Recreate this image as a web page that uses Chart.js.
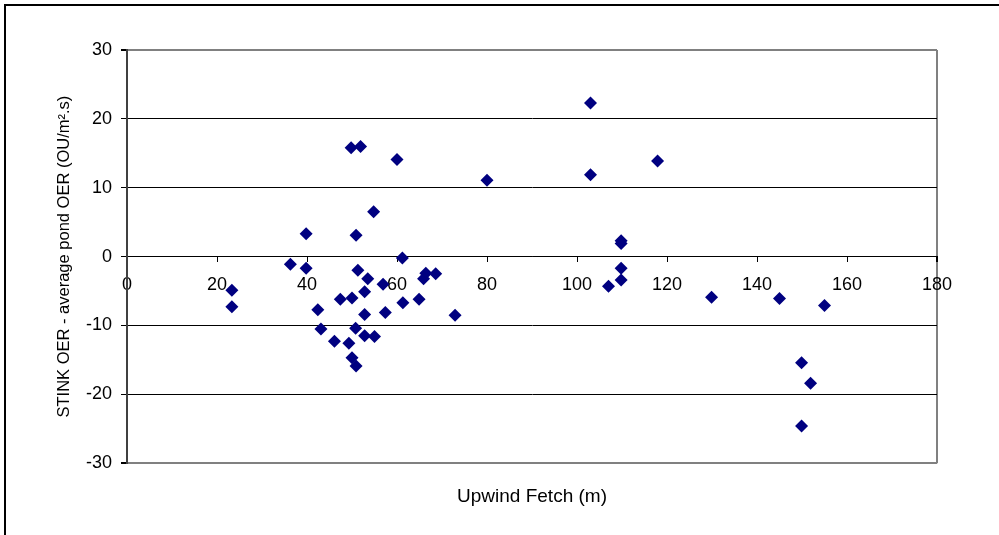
<!DOCTYPE html>
<html>
<head>
<meta charset="utf-8">
<script src="https://cdn.jsdelivr.net/npm/chart.js@4.4.1/dist/chart.umd.min.js"></script>
<style>
  html, body { margin: 0; padding: 0; background: #fff; overflow: hidden; }
  #wrap { position: relative; width: 999px; height: 535px; }
  #frame { position: absolute; left: 4px; top: 4px; width: 1100px; height: 600px;
           border: 2px solid #000; pointer-events: none; }
</style>
</head>
<body>
<div id="wrap">
  <canvas id="fetchChart" width="999" height="535"></canvas>
  <div id="frame"></div>
</div>
<script>
// Upwind fetch (m) and STINK OER minus average pond OER
const fetchM = [
  23.3, 23.3, 36.3, 39.8, 39.8, 42.4, 43.1, 46.1, 47.4, 49.3,
  49.8, 50.0, 50.0, 50.9, 50.8, 50.9, 51.3, 51.9, 52.8, 52.8,
  52.8, 53.5, 54.8, 55.0, 56.9, 57.4, 60.0, 61.2, 61.3, 64.9,
  65.9, 66.4, 68.6, 72.9, 80.0, 103.0, 103.0, 107.0, 109.8, 109.8,
  109.8, 109.8, 117.9, 129.9, 145.0, 155.0, 149.9, 151.9, 149.9
];
const oerDiff = [
  -4.9, -7.3, -1.1, 3.3, -1.7, -7.7, -10.5, -12.3, -6.2, -12.6,
  15.8, -6.0, -14.7, -15.9, -10.4, 3.1, -2.0, 16.0, -5.1, -8.4,
  -11.5, -3.2, 6.5, -11.6, -4.0, -8.1, 14.1, -0.2, -6.7, -6.2,
  -3.2, -2.4, -2.5, -8.5, 11.1, 22.3, 11.9, -4.3, 2.3, 1.9,
  -1.7, -3.4, 13.9, -5.9, -6.1, -7.1, -15.4, -18.4, -24.6
];
const xTicks = { min: 0, max: 180, step: 20 };
const yTicks = { min: -30, max: 30, step: 10 };

const points = fetchM.map((x, i) => ({ x: x, y: oerDiff[i] }));

Chart.defaults.font.family = "'Liberation Sans', Arial, sans-serif";
Chart.defaults.color = '#000';

new Chart(document.getElementById('fetchChart'), {
  type: 'scatter',
  data: {
    datasets: [{
      data: points,
      pointStyle: 'rectRot',
      pointRadius: 6.5,
      pointHoverRadius: 6.5,
      backgroundColor: '#000080',
      borderColor: '#000080',
      borderWidth: 0
    }]
  },
  options: {
    responsive: false,
    animation: false,
    layout: { padding: { top: 50, right: 62, bottom: 27, left: 0 } },
    plugins: {
      legend: { display: false },
      tooltip: { enabled: false },
      title: {
        display: true,
        position: 'bottom',
        fullSize: false,
        text: 'Upwind Fetch (m)',
        color: '#000',
        font: { size: 19, weight: 'normal' },
        padding: { top: 22, bottom: 0 }
      }
    },
    scales: {
      x: {
        type: 'linear',
        position: { y: 0 },
        min: xTicks.min,
        max: xTicks.max,
        afterFit: s => { s.height = 0; },
        ticks: { stepSize: xTicks.step, font: { size: 18 }, padding: 13, maxRotation: 0 },
        grid: {
          color: c => c.tick && c.tick.value === xTicks.max ? '#808080' : 'rgba(0,0,0,0)',
          lineWidth: c => c.tick && c.tick.value === xTicks.max ? 2 : 1,
          tickColor: '#000',
          tickLength: 5
        },
        border: { display: true, color: '#000', width: 1 }
      },
      y: {
        type: 'linear',
        position: 'left',
        min: yTicks.min,
        max: yTicks.max,
        afterFit: s => { s.width = 127; },
        ticks: { stepSize: yTicks.step, font: { size: 18 }, padding: 9 },
        title: {
          display: true,
          text: 'STINK OER - average pond OER (OU/m\u00B2.s)',
          font: { size: 16.5 },
          padding: { top: 55, bottom: 0 }
        },
        grid: {
          color: c => (c.tick && Math.abs(c.tick.value) === yTicks.max) ? '#808080' : '#000',
          lineWidth: c => (c.tick && Math.abs(c.tick.value) === yTicks.max) ? 2 : 1,
          tickColor: '#000',
          tickLength: 6
        },
        border: { display: true, color: '#404040', width: 2 }
      }
    }
  }
});
</script>
</body>
</html>
